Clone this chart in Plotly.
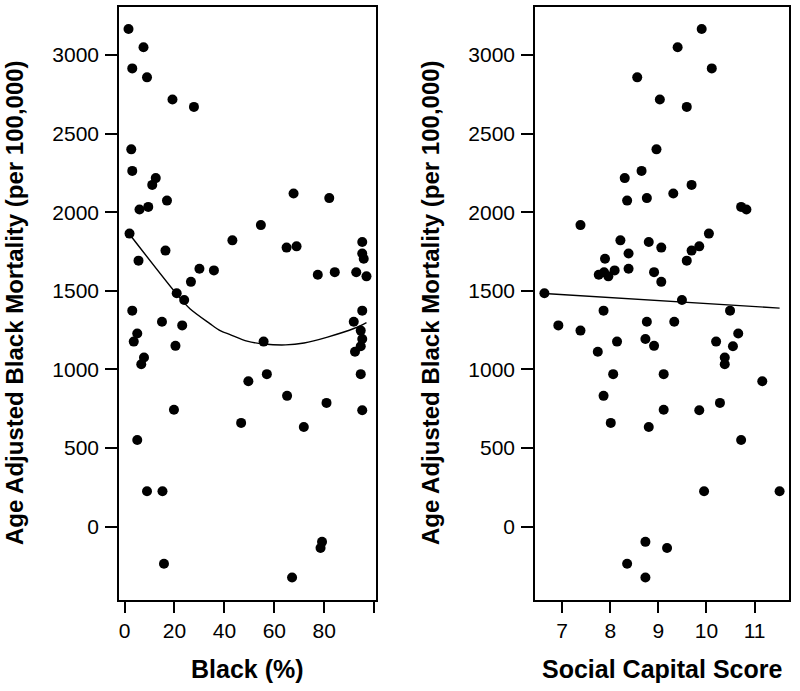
import plotly.graph_objects as go

# ---- data (one entry per county) ----
black_pct = [1.6, 7.6, 3.1, 9.0, 19.2, 27.8, 2.7, 3.1, 12.5, 11.1, 17.0, 6.0, 9.5, 2.0,
             43.2, 5.6, 16.4, 30.0, 35.8, 26.6, 20.9, 23.9, 3.1, 15.0, 23.1, 5.1, 3.7,
             20.4, 7.8, 6.7, 19.8, 5.1, 9.0, 15.2, 15.8, 67.7, 82.0, 54.6, 64.9, 68.9,
             95.2, 95.2, 95.8, 77.4, 84.2, 92.8, 96.9, 95.2, 91.8, 94.6, 95.2, 94.6,
             92.3, 55.7, 57.0, 49.6, 65.1, 80.9, 94.6, 95.2, 46.7, 71.8, 79.1, 78.5, 67.1]
social_capital = [9.90, 9.40, 10.11, 8.56, 9.03, 9.59, 8.96, 8.65, 8.30, 9.69, 8.35, 10.83,
                  10.72, 10.05, 8.21, 9.59, 9.69, 8.38, 8.09, 9.06, 6.63, 9.49, 7.86, 8.76,
                  6.92, 10.66, 8.14, 8.91, 10.38, 10.38, 9.11, 10.72, 9.95, 11.52, 8.35,
                  9.31, 8.76, 7.38, 9.06, 9.85, 8.80, 8.38, 7.89, 7.76, 8.91, 7.87, 7.96,
                  10.49, 9.33, 7.38, 8.73, 10.55, 7.74, 10.20, 8.06, 11.16, 7.86, 10.28,
                  9.11, 9.85, 8.01, 8.80, 8.73, 9.18, 8.73]
mortality = [3166, 3050, 2915, 2858, 2717, 2670, 2400, 2263, 2217, 2174, 2074, 2017, 2034,
             1864, 1821, 1692, 1756, 1640, 1630, 1557, 1485, 1442, 1374, 1303, 1280, 1229,
             1177, 1150, 1076, 1033, 743, 551, 225, 225, -236, 2119, 2090, 1918, 1775,
             1783, 1811, 1738, 1704, 1602, 1619, 1618, 1592, 1374, 1303, 1247, 1194, 1147,
             1113, 1177, 970, 925, 832, 787, 970, 740, 660, 634, -97, -136, -324]

# fitted curves
fit_black_x = [2.0, 20.8, 26.2, 34.3, 38.3, 42.3, 49.1, 55.8, 64.5, 71.9, 81.3, 92.1, 96.9]
fit_black_y = [1860, 1481, 1386, 1290, 1247, 1222, 1180, 1162, 1156, 1168, 1206, 1262, 1298]
fit_social_x = [6.63, 11.52]
fit_social_y = [1483, 1390]

y_ticks = [0, 500, 1000, 1500, 2000, 2500, 3000]
y_ticktext = ["0", "500", "1000", "1500", "2000", "2500", "3000"]
x1_ticks = [0, 20, 40, 60, 80, 100]
x1_ticktext = ["0", "20", "40", "60", "80", ""]
x2_ticks = [7, 8, 9, 10, 11]
x2_ticktext = ["7", "8", "9", "10", "11"]

y_title = "Age Adjusted Black Mortality (per 100,000)"
x1_title = "Black (%)"
x2_title = "Social Capital Score"


def r_range(v):
    lo, hi = min(v), max(v)
    d = (hi - lo) * 0.04
    return [lo - d, hi + d]


W, H = 800, 691
FONT = "Liberation Sans, Arial, Helvetica, sans-serif"
marker = dict(color="black", size=10, symbol="circle")
fitline = dict(color="black", width=1.4, shape="spline", smoothing=0.8)

fig = go.Figure()
fig.add_trace(go.Scatter(x=black_pct, y=mortality, mode="markers", marker=marker,
                         xaxis="x", yaxis="y", showlegend=False))
fig.add_trace(go.Scatter(x=fit_black_x, y=fit_black_y, mode="lines", line=fitline,
                         xaxis="x", yaxis="y", showlegend=False))
fig.add_trace(go.Scatter(x=social_capital, y=mortality, mode="markers", marker=marker,
                         xaxis="x2", yaxis="y2", showlegend=False))
fig.add_trace(go.Scatter(x=fit_social_x, y=fit_social_y, mode="lines",
                         line=dict(color="black", width=1.4),
                         xaxis="x2", yaxis="y2", showlegend=False))

ax_common = dict(showgrid=False, zeroline=False, showline=True, mirror=True,
                 linecolor="black", linewidth=1.5, ticks="outside", ticklen=12,
                 tickwidth=1.5, tickcolor="black",
                 tickfont=dict(family=FONT, size=21, color="black"))
yr = r_range(mortality)
ydom = [1 - 599.5 / H, 1 - 7 / H]

fig.update_layout(
    width=W, height=H,
    margin=dict(l=0, r=0, t=0, b=0),
    paper_bgcolor="white", plot_bgcolor="white",
    font=dict(family=FONT, color="black"),
    xaxis=dict(domain=[119 / W, 376 / W], range=r_range(black_pct),
               tickmode="array", tickvals=x1_ticks, ticktext=x1_ticktext,
               anchor="y", **ax_common),
    yaxis=dict(domain=ydom, range=yr, tickmode="array", tickvals=y_ticks,
               ticktext=y_ticktext, anchor="x", ticklabelstandoff=2, **ax_common),
    xaxis2=dict(domain=[535 / W, 789 / W], range=r_range(social_capital),
                tickmode="array", tickvals=x2_ticks, ticktext=x2_ticktext,
                anchor="y2", **ax_common),
    yaxis2=dict(domain=ydom, range=yr, tickmode="array", tickvals=y_ticks,
                ticktext=y_ticktext, anchor="x2", ticklabelstandoff=2, **ax_common),
)

title_font = dict(family=FONT, size=25, color="black")
for txt, cx in ((x1_title, (119 + 376) / 2), (x2_title, (535 + 789) / 2)):
    fig.add_annotation(text="<b>" + txt + "</b>", x=cx / W, y=1 - 669 / H,
                       xref="paper", yref="paper", showarrow=False, font=title_font,
                       xanchor="center", yanchor="middle")
ytitle_font = dict(family=FONT, size=24, color="black")
for cx in (14, 430):
    fig.add_annotation(text="<b>" + y_title + "</b>", x=cx / W, y=1 - 303 / H,
                       xref="paper", yref="paper", showarrow=False, font=ytitle_font,
                       textangle=-90, xanchor="center", yanchor="middle")

fig.write_html("out.html", config={"displayModeBar": False},
               post_script="document.body.style.margin='0px';")
